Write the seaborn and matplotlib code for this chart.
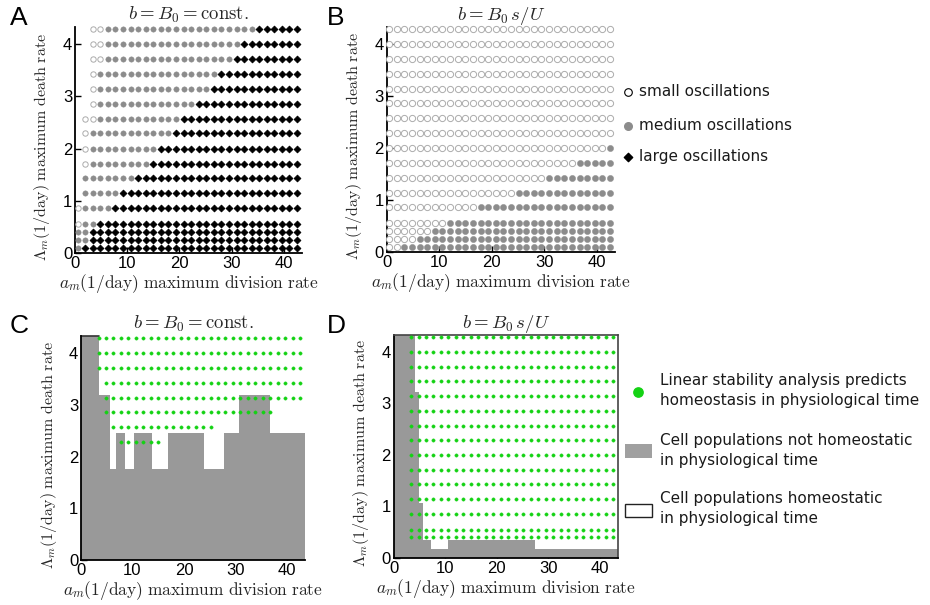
import numpy as np
import pandas as pd
import matplotlib
matplotlib.use("Agg")
import matplotlib.pyplot as plt
import seaborn as sns
from matplotlib.patches import Rectangle

# ---------------- data ----------------
# grid of maximum division rates a_m (1/day)
a_grid = [0.5, 1.95, 3.4, 4.85, 6.3, 7.75, 9.2, 10.65, 12.1, 13.55, 15.0, 16.45,
          17.9, 19.35, 20.8, 22.25, 23.7, 25.15, 26.6, 28.05, 29.5, 30.95, 32.4,
          33.85, 35.3, 36.75, 38.2, 39.65, 41.1, 42.55]
# grid of maximum death rates Lambda_m (1/day)
lam_grid = [0.1, 0.25, 0.4, 0.55, 0.86, 1.14, 1.43, 1.71, 2.0, 2.29, 2.57,
            2.86, 3.14, 3.43, 3.71, 4.0, 4.29]

# Panel A (b = B0 = const.): per row, first column index with a marker,
# first column with medium oscillations, first column with large oscillations
A_first = [0, 0, 0, 0, 0, 1, 1, 1, 1, 1, 1, 2, 2, 2, 2, 2, 2]
A_med = [0, 0, 0, 1, 1, 1, 1, 2, 2, 2, 3, 3, 3, 3, 4, 4, 4]
A_large = [1, 2, 2, 3, 5, 6, 8, 10, 11, 13, 14, 16, 18, 19, 21, 22, 24]

# Panel B (b = B0 s/U): per row, first column with medium oscillations (30 = none)
B_first = [0] * 17
B_med = [2, 4, 6, 8, 12, 17, 21, 25, 29, 30, 30, 30, 30, 30, 30, 30, 30]
B_large = [30] * 17

# Panel C: green dots (linear stability predicts homeostasis), rows 2.29..4.29
C_rows = [2.29, 2.57, 2.86, 3.14, 3.43, 3.71, 4.0, 4.29]
C_start = [5, 4, 3, 3, 3, 2, 2, 2]
C_end = [10, 17, 25, 29, 29, 29, 29, 29]
# Panel C: not-homeostatic region (step boundary)
C_edges = [0, 3.55, 5.7, 6.8, 8.6, 10.3, 13.7, 16.9, 23.9, 27.7, 30.6, 36.8, 43.5]
C_tops = [4.33, 3.18, 1.76, 2.46, 1.76, 2.46, 1.76, 2.46, 1.76, 2.46, 3.18, 2.46]

# Panel D: green dots rows 0.4..4.29
D_rows = [0.4, 0.55, 0.86, 1.14, 1.43, 1.71, 2.0, 2.29, 2.57, 2.86, 3.14,
          3.43, 3.71, 4.0, 4.29]
D_start = [2] * 15
D_end = [29] * 15
D_edges = [0, 4.2, 5.0, 5.7, 7.2, 10.5, 27.4, 43.5]
D_tops = [4.35, 3.22, 1.06, 0.35, 0.18, 0.34, 0.18]

x_ticks = [0, 10, 20, 30, 40]
y_ticks = [0, 1, 2, 3, 4]

# ---------------- style ----------------
sns.set_style("ticks")
plt.rcParams["font.family"] = ["Liberation Sans", "DejaVu Sans"]
plt.rcParams["mathtext.fontset"] = "cm"

W, H = 930, 605
fig = plt.figure(figsize=(W / 100, H / 100), dpi=100)


def box(l, t, r, b):
    return [l / W, 1 - b / H, (r - l) / W, (b - t) / H]


axA = fig.add_axes(box(75, 27, 302, 253))
axB = fig.add_axes(box(386.5, 27, 615, 252))
axC = fig.add_axes(box(81, 336, 305, 560))
axD = fig.add_axes(box(393.5, 335, 618, 558))

XLAB = r"$a_m(1/\mathrm{day})\ \mathrm{maximum\ division\ rate}$"
YLAB = r"$\Lambda_m(1/\mathrm{day})\ \mathrm{maximum\ death\ rate}$"


def osc_frame(first, med, large):
    rows = []
    for i, lam in enumerate(lam_grid):
        for k, a in enumerate(a_grid):
            if k < first[i]:
                continue
            if k >= large[i]:
                c = "large"
            elif k >= med[i]:
                c = "medium"
            else:
                c = "small"
            rows.append((a, lam, c))
    return pd.DataFrame(rows, columns=["a", "lam", "cls"])


def green_frame(rows_y, start, end):
    pts = []
    for y, s, e in zip(rows_y, start, end):
        for k in range(s, e + 1):
            pts.append((a_grid[k], y))
    return pd.DataFrame(pts, columns=["a", "lam"])


def style_axes(ax, title, full_frame=False):
    ax.set_xlim(0, 43.5)
    ax.set_ylim(0, 4.33)
    ax.set_xticks(x_ticks)
    ax.set_yticks(y_ticks)
    ax.tick_params(direction="in", length=4, width=1, labelsize=12, pad=2,
                   colors="black")
    for s in ["left", "bottom"]:
        ax.spines[s].set_visible(True)
        ax.spines[s].set_color("black")
        ax.spines[s].set_linewidth(1.3)
    for s in ["top", "right"]:
        ax.spines[s].set_visible(full_frame)
        ax.spines[s].set_color("#444444")
        ax.spines[s].set_linewidth(1.2)
    ax.set_xlabel(XLAB, fontsize=12.5, labelpad=1)
    ax.set_ylabel(YLAB, fontsize=11.5)
    ax.yaxis.set_label_coords(-0.10, 0.47)
    ax.set_title(title, fontsize=13.5, pad=5)
    ax.set_facecolor("white")


SMALL_EC = "#ababab"
MED_C = "#8c8c8c"

for ax, first, med, large, s_open in [(axA, A_first, A_med, A_large, 15),
                                      (axB, B_first, B_med, B_large, 20)]:
    df = osc_frame(first, med, large)
    d = df[df.cls == "small"]
    sns.scatterplot(data=d, x="a", y="lam", ax=ax, marker="o", s=s_open,
                    color="white", edgecolor=SMALL_EC, linewidth=0.7,
                    legend=False, clip_on=False, zorder=3)
    d = df[df.cls == "medium"]
    sns.scatterplot(data=d, x="a", y="lam", ax=ax, marker="o", s=s_open,
                    color=MED_C, edgecolor=MED_C, linewidth=0.3,
                    legend=False, clip_on=False, zorder=3)
    d = df[df.cls == "large"]
    if len(d):
        sns.scatterplot(data=d, x="a", y="lam", ax=ax, marker="D", s=12,
                        color="black", edgecolor="black", linewidth=0.6,
                        legend=False, clip_on=False, zorder=3)

style_axes(axA, r"$b = B_0 = \mathrm{const.}$")
style_axes(axB, r"$b = B_0\, s/U$")

GREY = "#999999"
GREEN = "#14d214"

axC.fill_between(C_edges, C_tops + [C_tops[-1]], step="post", color=GREY,
                 linewidth=0, zorder=1)
axC.plot(C_edges[:2], [4.33, 4.33], color="#333333", lw=1.2, zorder=2,
         clip_on=False)
sns.scatterplot(data=green_frame(C_rows, C_start, C_end), x="a", y="lam",
                ax=axC, s=6, color=GREEN, edgecolor=GREEN, linewidth=0.2,
                legend=False, zorder=3)
style_axes(axC, r"$b = B_0 = \mathrm{const.}$")

axD.fill_between(D_edges, D_tops + [D_tops[-1]], step="post", color=GREY,
                 linewidth=0, zorder=1)
sns.scatterplot(data=green_frame(D_rows, D_start, D_end), x="a", y="lam",
                ax=axD, s=6, color=GREEN, edgecolor=GREEN, linewidth=0.2,
                legend=False, zorder=3)
style_axes(axD, r"$b = B_0\, s/U$", full_frame=True)

# ---------------- overlay: panel letters and legends ----------------
ov = fig.add_axes([0, 0, 1, 1], facecolor="none")
ov.set_xlim(0, W)
ov.set_ylim(H, 0)
ov.axis("off")

for lbl, x, y in [("A", 19, 18), ("B", 336, 18), ("C", 19, 326), ("D", 336, 326)]:
    ov.text(x, y, lbl, fontsize=19, ha="center", va="center", color="black")

TXT = dict(fontsize=11, family="DejaVu Sans", color="#1a1a1a", va="center")
ov.scatter([628], [91.5], s=30, marker="o", facecolor="white",
           edgecolor="black", linewidth=0.8)
ov.text(639, 91.5, "small oscillations", **TXT)
ov.scatter([628], [125.5], s=30, marker="o", color=MED_C)
ov.text(639, 125.5, "medium oscillations", **TXT)
ov.scatter([628], [157], s=18, marker="D", color="black")
ov.text(639, 157, "large oscillations", **TXT)

ov.scatter([638], [392], s=45, marker="o", color=GREEN)
ov.text(660, 381, "Linear stability analysis predicts", **TXT)
ov.text(660, 401, "homeostasis in physiological time", **TXT)
ov.add_patch(Rectangle((625, 444), 27, 14, facecolor="#a0a0a0",
                       edgecolor="none"))
ov.text(660, 440, "Cell populations not homeostatic", **TXT)
ov.text(660, 460, "in physiological time", **TXT)
ov.add_patch(Rectangle((625, 504), 27, 13, facecolor="white",
                       edgecolor="#222222", linewidth=1))
ov.text(660, 498, "Cell populations homeostatic", **TXT)
ov.text(660, 519, "in physiological time", **TXT)

fig.savefig("out.png", dpi=100, facecolor="white")
